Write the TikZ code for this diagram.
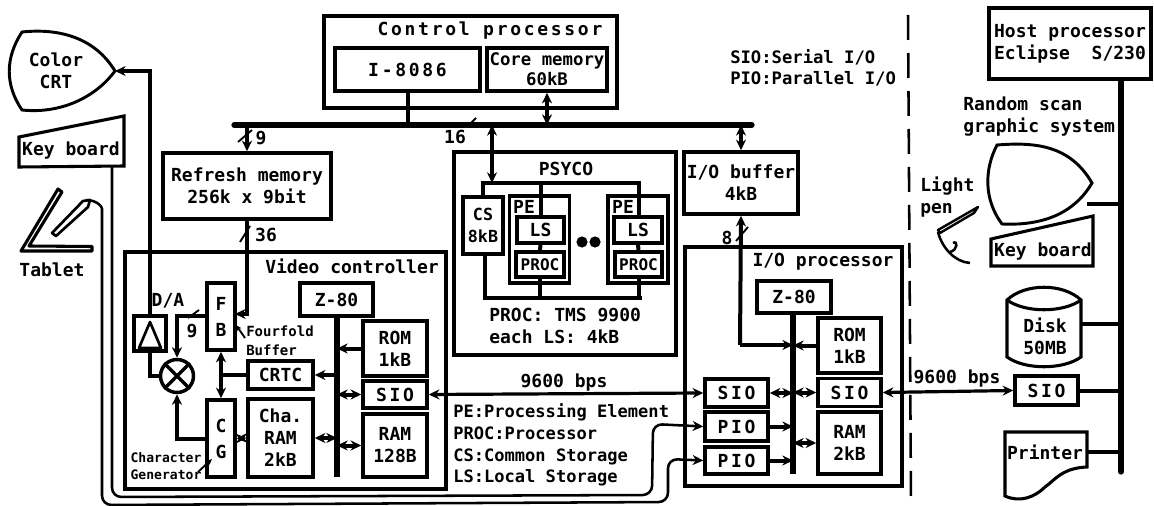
\documentclass[tikz,border=0pt]{standalone}
\usepackage{fontspec}
\setmainfont{DejaVu Sans Mono}
\newfontfamily\widemono[LetterSpace=15]{DejaVu Sans Mono}
\usetikzlibrary{arrows.meta}

\begin{document}
\begin{tikzpicture}[
  x=0.75pt, y=-0.75pt, >={Stealth[length=8pt,width=7.5pt]},
  font=\fontsize{13.5}{16.5}\selectfont\bfseries,
  sz/.style 2 args={minimum width=#1*0.75pt, minimum height=#2*0.75pt},
  B/.style={draw, line width=2.6pt, inner sep=0pt, align=center, fill=white},
  Bw/.style={B, font=\widemono\fontsize{13.5}{16.5}\selectfont\bfseries},
  T/.style={inner sep=0pt, align=center},
  Tl/.style={inner sep=0pt, align=left, anchor=west},
  Ts/.style={T, font=\fontsize{10.5}{14}\selectfont\bfseries},
  busl/.style={line width=3.9pt, line cap=round},
  conn/.style={line width=3pt},
  serial/.style={line width=2.4pt},
  cable/.style={line width=1.9pt, rounded corners=7pt},
  tick/.style={line width=1.4pt},
  smalltip/.style={>={Stealth[length=4.5pt,width=4pt]}},
]

\useasboundingbox (0,0) rectangle (1154,506);

%% ---- Containers ----
\node[B, sz={293}{92}]  (ctrl)  at (470.5,62)  {};
\node[B, sz={321}{237}] (vctrl) at (285.5,370.5) {};
\node[B, sz={222}{203}] (psyco) at (565,253.5) {};
\node[B, sz={217}{239}] (iop)   at (793.5,366.5) {};
\node[B, sz={60}{87}]   (pe1)   at (539.5,239.5) {};
\node[B, sz={60}{87}]   (pe2)   at (638,239.5) {};

%% ---- Control processor ----
\node[T, font=\widemono\fontsize{13.5}{16.5}\selectfont\bfseries] (ctrlt) at (490,31) {Control processor};
\node[Bw, sz={145}{43}] (i86)  at (407.5,69.5) {I-8086};
\node[B, sz={120}{43}, font=\fontsize{13}{15}\selectfont\bfseries] (core) at (547,69.5) {Core memory\\60kB};

%% ---- System bus ----
\coordinate (busl) at (234,125);
\coordinate (busr) at (752,125);
\draw[busl] (busl) -- (busr);
\draw[conn] (i86.south) -- (i86.south |- busl);
\draw[conn,<->] (core.south) -- (core.south |- busl);

%% ---- Left side devices ----
\coordinate (ctip) at (115,71);
\draw[line width=2.2pt, fill=white] (22,32) .. controls (60,28) and (95,38) .. (ctip)
  .. controls (95,98) and (60,114) .. (22,110)
  .. controls (5,85) and (5,58) .. (22,32) -- cycle;
\node[T] (crt) at (56,71) {Color\\CRT};
\draw[line width=2.3pt, fill=white] (19,137) -- (124,116) -- (124,166) -- (19,167) -- cycle;
\node[T] (kbl) at (71,151) {Key board};
\draw[line width=2.3pt, line join=round] (58,189) -- (62,192) -- (29,246) -- (92,246.5) -- (92,251) -- (21,251) -- cycle;
\draw[line width=2pt, line join=round] (52,233) -- (83,201) -- (90,200) -- (88,207) -- (56,236) -- cycle;
\node[T] (tabt) at (52,270) {Tablet};

%% ---- Refresh memory and I/O buffer ----
\node[B, sz={168}{66}] (refm) at (247,186) {Refresh memory\\256k x 9bit};
\node[B, sz={114}{62}] (iobuf) at (741,183) {I/O buffer\\4kB};
\draw[conn,->] (refm.north |- busl) -- (refm.north);
\draw[tick] (238,142) -- (252,130);
\node[T] (n9) at (261,138) {9};
\draw[conn,<->] (iobuf.north |- busl) -- (iobuf.north);

%% ---- PSYCO ----
\node[T] (psycot) at (566,169) {PSYCO};
\coordinate (ptl) at (483,183);
\coordinate (ptr) at (639,183);
\coordinate (pbl) at (485,298);
\coordinate (pbr) at (640,298);
\draw[line width=3.7pt, line cap=rect] (ptl) -- (ptr);
\draw[line width=3.7pt, line cap=rect] (pbl) -- (pbr);
\node[B, sz={40}{57}, font=\fontsize{12.5}{16}\selectfont\bfseries] (cs) at (483,225.5) {CS\\8kB};
\node[B, sz={47}{26}] (ls1) at (540.5,230) {LS};
\node[B, sz={48}{25}, line width=3pt, font=\fontsize{12}{14}\selectfont\bfseries] (pr1) at (540,264.5) {PROC};
\node[B, sz={48}{26}] (ls2) at (638,230) {LS};
\node[B, sz={47}{25}, line width=3pt, font=\fontsize{12}{14}\selectfont\bfseries] (pr2) at (638.5,264.5) {PROC};
\draw[conn,<->] (ptl -| 492,0) -- (busl -| 492,0);
\draw[conn] (ptl) -- (cs.north -| ptl);
\draw[conn] (pbl |- cs.south) -- (pbl);
\draw[conn] (ptl -| ls1.north) -- (ls1.north);
\draw[conn] (ls1.south) -- (pr1.north);
\draw[conn] (pr1.south) -- (pbl -| pr1.south);
\draw[conn] (ptr) -- (ptr |- ls2.north);
\draw[conn] (ls2.south) -- (pr2.north);
\draw[conn] (pr2.south) -- (pbr -| pr2.south);
\node[T] (pe1t) at (524,207) {PE};
\node[T] (pe2t) at (623,207) {PE};
\fill (582,242) circle (4.2pt) (595,242) circle (4.2pt);
\node[Tl] (psnote) at (489,326) {PROC: TMS 9900\\each LS: 4kB};
\node[T] (n16) at (455,137) {16};
\draw[tick] (470,124) -- (476,118);

%% ---- Video controller ----
\node[T] (vctrlt) at (352,266) {Video controller};
\node[B, sz={32}{35}] (damp) at (150,333.5) {};
\draw[line width=2pt, line join=round] (150,322) -- (161,348) -- (139,348) -- cycle;
\node[T] (dat) at (168,301) {D/A};
\node[B, sz={28}{67}] (fb) at (221,316.5) {F\\[3pt]B};
\node[B, sz={28}{77}] (cg) at (221,438.5) {C\\[3pt]G};
\node[B, sz={65}{28}] (crtc) at (280.5,375) {CRTC};
\node[B, sz={65}{78}] (cha) at (280.5,438) {Cha.\\RAM\\2kB};
\node[B, sz={73}{33}] (vz) at (336.5,299.5) {Z-80};
\node[B, sz={64}{55}] (vrom) at (395,348.5) {ROM\\1kB};
\node[Bw, sz={64}{27}] (vsio) at (395,394.5) {SIO};
\node[B, sz={64}{63}] (vram) at (395,445.5) {RAM\\128B};
\coordinate (vbe) at (337,477);
\draw[busl, line cap=butt] (vz.south -| vbe) -- (vbe);
\draw[conn,->] (vrom.west) -- (vrom.west -| vbe);
\draw[conn,->] (crtc.east -| vbe) -- (crtc.east);
\draw[conn,<->] (vsio.west) -- (vsio.west -| vbe);
\draw[conn,<->] (vram.west) -- (vram.west -| vbe);
\draw[conn,<->] (cha.east) -- (cha.east -| vbe);
\draw[conn,<->] (cg.east) -- (cha.west);
\draw[conn,<->] (fb.south) -- (cg.north);
\draw[conn] (crtc.west) -- (crtc.west -| fb.south);
\node[circle, draw, line width=2.6pt, minimum size=33*0.75pt, inner sep=0pt] (mix) at (177,376) {};
\draw[line width=2.4pt] (mix.north west) -- (mix.south east) (mix.north east) -- (mix.south west);
\draw[conn] (damp.south) |- (mix.west);
\coordinate (fbo) at (207,316);
\draw[conn,->] (fbo) -| (mix.north);
\draw[conn,->] (cg.west) -| (mix.south);
\draw[conn,->] (refm.south) |- (235,314);
\draw[tick] (240,242) -- (250,226);
\node[T] (n36) at (266,235) {36};
\draw[conn,<-] (ctip) -- (132,71) -| (damp.north);
\draw[tick] (188,318) -- (199,310);
\node[T] (n9b) at (192,331) {9};
\node[Ts, anchor=west] (ffb) at (246,331) {Fourfold};
\node[Ts, anchor=west] (ffb2) at (246,350) {Buffer};
\draw[tick,smalltip,->] (245,338) -- (236,325);
\node[T, font=\fontsize{9.8}{13}\selectfont\bfseries] (chg) at (166,458) {Character};
\node[T, font=\fontsize{9.8}{13}\selectfont\bfseries] (chg2) at (166,475) {Generator};
\draw[tick,smalltip,->] (198,472) -- (212,459);

%% ---- I/O processor ----
\node[T] (iopt) at (823,262) {I/O processor};
\node[B, sz={74}{32}] (iz) at (794,297) {Z-80};
\node[B, sz={63}{55}] (irom) at (849.5,345.5) {ROM\\1kB};
\node[Bw, sz={63}{28}] (isio2) at (849.5,392.5) {SIO};
\node[B, sz={63}{62}] (iram) at (849.5,443) {RAM\\2kB};
\node[Bw, sz={63}{28}] (isio1) at (736.5,393) {SIO};
\node[Bw, sz={63}{29}] (pio1) at (736.5,426.5) {PIO};
\node[Bw, sz={63}{27}] (pio2) at (736.5,460.5) {PIO};
\coordinate (ibe) at (793,474);
\draw[busl, line cap=butt] (iz.south -| ibe) -- (ibe);
\draw[conn,->] (irom.west) -- (irom.west -| ibe);
\draw[conn,<->] (isio2.west) -- (isio2.west -| ibe);
\draw[conn,<->] (iram.west) -- (iram.west -| ibe);
\draw[conn,<->] (isio1.east) -- (isio1.east -| ibe);
\draw[conn,->] (pio1.east) -- (pio1.east -| ibe);
\draw[conn,->] (pio2.east) -- (pio2.east -| ibe);
\coordinate (iobd) at (740,345);
\draw[conn,<-] (iobuf.south) -- (iobd);
\draw[conn,->] (iobd) -- (iobd -| ibe);
\draw[tick] (736,241) -- (748,227);
\node[T] (n8) at (727,238) {8};
\draw[serial,<->] (vsio.east) -- (isio1.west);
\node[T] (bps1) at (564,383) {9600 bps};

%% ---- Legend ----
\node[Tl, font=\fontsize{12.8}{16.4}\selectfont\bfseries] (legd) at (453,445)
  {PE:Processing Element\\PROC:Processor\\CS:Common Storage\\LS:Local Storage};
\node[Tl, font=\fontsize{12.9}{15.7}\selectfont\bfseries] (legt) at (730,67.5)
  {SIO:Serial I/O\\PIO:Parallel I/O};

%% ---- Cables to the PIOs ----
\coordinate (kbs) at (112,167);
\coordinate (tabp) at (86,200);
\draw[cable,->] (kbs) -- (112,497) -- (652,495) -- (653,424) -- (pio1.west);
\draw[cable,->] (tabp) .. controls (96,200) and (102,206) .. (102,218) -- (102,505) -- (668,502) -- (668,459) -- (pio2.west);

%% ---- Divider ----
\draw[line width=1.9pt, dash pattern=on 25*0.75pt off 13*0.75pt] (908,15) -- (911,500);

%% ---- Host side ----
\node[B, sz={162}{71}, align=left] (host) at (1070,43.5) {Host processor\\Eclipse~~S/230};
\coordinate (hbe) at (1121,472);
\draw[busl] (host.south -| hbe) -- (hbe);
\node[Tl] (rand) at (963,117) {Random scan\\graphic system};
\coordinate (rtip) at (1092,183);
\draw[line width=2.2pt] (997,145) .. controls (1035,142) and (1070,145) .. (rtip)
  .. controls (1075,212) and (1045,226) .. (1002,224)
  .. controls (984,200) and (984,170) .. (997,145) -- cycle;
\coordinate (rcon) at (1087,204);
\draw[conn] (rcon) -- (rcon -| hbe);
\draw[line width=2.3pt, fill=white] (991,239) -- (1093,216) -- (1093,266) -- (991,266) -- cycle;
\node[T] (kbr) at (1043,252) {Key board};
\node[Tl] (lpen) at (920,197.5) {Light\\pen};
\draw[line width=1.8pt, line join=round] (978,207) -- (938,230) -- (940,233) -- (974,213) -- cycle;
\draw[line width=1.9pt] (938,232) .. controls (942,248) and (955,262) .. (970,263);
\draw[line width=1.9pt] (950,252) .. controls (958,250) and (958,240) .. (953,243);
\draw[line width=2.3pt, fill=white] (1007,300) .. controls (1025,283) and (1063,283) .. (1081,300)
  -- (1081,357) .. controls (1063,370) and (1025,370) .. (1007,357) -- cycle;
\draw[line width=2.3pt] (1007,300) .. controls (1025,313) and (1063,313) .. (1081,300);
\node[T] (disk) at (1045,336) {Disk\\50MB};
\coordinate (dcon) at (1081,324);
\draw[conn] (dcon) -- (dcon -| hbe);
\node[Bw, sz={63}{29}] (hsio) at (1046.5,390.5) {SIO};
\draw[serial,<->] (isio2.east) -- (hsio.west);
\draw[conn] (hsio.east) -- (hsio.east -| hbe);
\node[T] (bps2) at (957,379) {9600 bps};
\coordinate (pcon) at (1087,452);
\draw[line width=2.3pt, fill=white] (1005,432) -- (1087,432) -- (1087,467)
  .. controls (1062,468) and (1055,480) .. (1045,487) .. controls (1035,497) and (1020,503) .. (1005,496) -- cycle;
\node[T] (prnt) at (1045,452) {Printer};
\draw[conn] (pcon) -- (pcon -| hbe);

\end{tikzpicture}
\end{document}
